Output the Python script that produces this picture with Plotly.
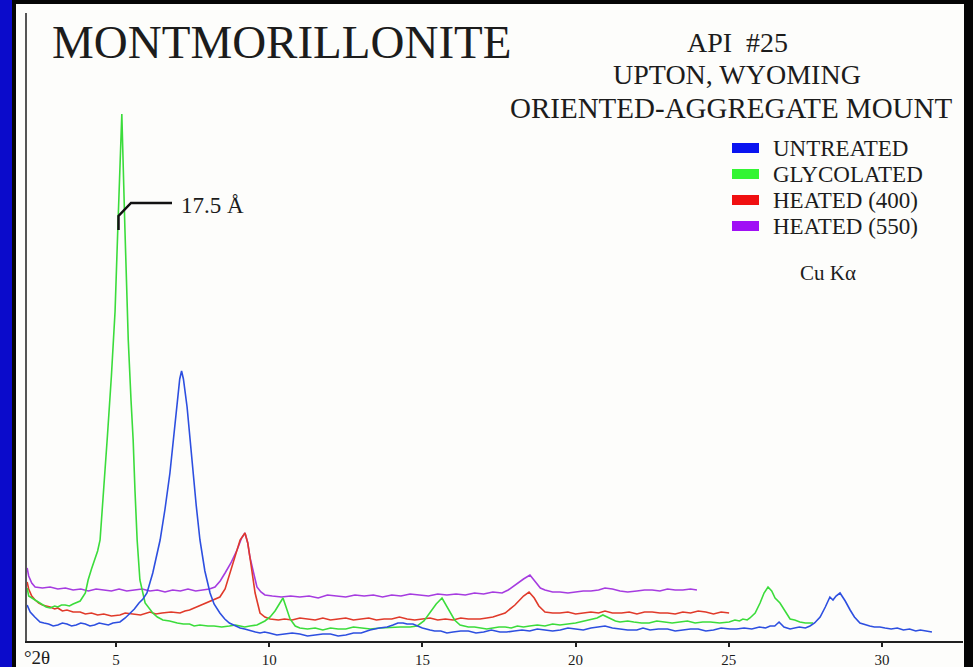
import plotly.graph_objects as go

# ---------------- data (°2θ, relative intensity) ----------------
untreated_2theta = [2.10, 2.20, 2.35, 2.52, 2.65, 2.8, 2.95, 3.1, 3.25, 3.4, 3.55, 3.7, 3.85, 4.0, 4.15,
                    4.3, 4.45, 4.6, 4.75, 4.9, 5.13, 5.3, 5.46, 5.6, 5.75, 5.88,
                    6.01, 6.2, 6.44, 6.6, 6.76, 6.9, 6.99, 7.08, 7.14, 7.2, 7.32, 7.42, 7.51, 7.62, 7.74,
                    7.9, 8.07, 8.2, 8.39, 8.55, 8.7, 8.9, 9.05, 9.2, 9.4, 9.55, 9.7, 9.85, 10.0, 10.25,
                    10.5, 10.75, 11.0, 11.25, 11.5, 11.75, 12.0, 12.25, 12.5, 12.75, 13.0,
                    13.29, 13.6, 13.85, 14.04, 14.2, 14.37, 14.5, 14.69, 14.85, 15.0, 15.25, 15.4, 15.6,
                    15.8, 16.0, 16.25, 16.5, 16.75, 17.0, 17.25, 17.53, 17.75, 18.0, 18.25,
                    18.5, 18.75, 19.0, 19.25, 19.5, 19.75, 20.0, 20.25, 20.5, 20.75, 20.96, 21.2, 21.4,
                    21.7, 22.0, 22.2, 22.43, 22.7, 23.0, 23.25, 23.5, 23.75, 24.0, 24.25, 24.5, 24.75,
                    25.04, 25.25, 25.5, 25.75, 26.0, 26.2, 26.35, 26.5, 26.64, 26.8, 27.0, 27.15, 27.3,
                    27.5, 27.65, 27.8, 27.98, 28.15, 28.3, 28.4, 28.5, 28.63, 28.8, 28.96, 29.1, 29.28,
                    29.45, 29.6, 29.75, 29.93, 30.1, 30.3, 30.5, 30.7, 30.9, 31.1, 31.25, 31.4, 31.63]
untreated_counts = [36, 29, 24, 19, 18, 17, 15, 16, 18, 17, 15, 16, 18, 17, 15,
                    16, 18, 17, 16, 18, 19, 23, 28, 32, 38, 42,
                    48, 68, 101, 132, 168, 210, 234, 262, 270, 262, 234, 200, 168, 135, 101,
                    70, 48, 37, 28, 22, 18, 15, 13, 12, 10, 9, 8, 9, 8, 6,
                    7, 8, 7, 5, 6, 7, 7, 5, 6, 8, 8,
                    11, 13, 14, 16, 18, 18, 17, 17, 15, 13, 11, 10, 10,
                    8, 9, 10, 10, 8, 9, 11, 9, 9, 10, 11,
                    10, 12, 11, 10, 11, 13, 12, 11, 13, 14, 15, 13, 12,
                    11, 11, 13, 11, 12, 12, 10, 11, 12, 12, 10, 11, 13,
                    12, 12, 13, 12, 14, 13, 15, 15, 19, 14, 12, 13, 14,
                    13, 15, 18, 24, 34, 44, 41, 45, 48, 40, 31, 24, 18,
                    16, 15, 14, 14, 13, 12, 13, 11, 12, 10, 11, 10, 9]

glycolated_2theta = [2.10, 2.15, 2.36, 2.5, 2.6, 2.72, 2.85, 3.0, 3.1, 3.22, 3.34, 3.48, 3.6, 3.72, 3.83,
                     4.0, 4.09, 4.2, 4.3, 4.4, 4.48, 4.6, 4.72,
                     4.85, 4.97, 5.06, 5.19, 5.29, 5.40, 5.49, 5.56, 5.62, 5.69, 5.78, 5.95, 6.2, 6.35,
                     6.53, 6.75, 7.0, 7.2, 7.4, 7.55, 7.74, 8.0, 8.2, 8.45, 8.7, 8.9, 9.05, 9.2, 9.37,
                     9.6, 9.86, 10.03, 10.19, 10.35, 10.45, 10.55, 10.68, 10.85, 11.0, 11.25, 11.5, 11.75,
                     12.0, 12.25, 12.5, 12.75, 13.0, 13.3, 13.62, 14.0, 14.27, 14.6, 14.83, 15.05,
                     15.25, 15.45, 15.64, 15.77, 15.9, 16.05, 16.23, 16.5, 16.7, 16.88, 17.1, 17.3, 17.5,
                     17.7, 17.9, 18.1, 18.3, 18.5, 18.75, 19.0, 19.25, 19.49, 19.8, 20.0, 20.14, 20.3,
                     20.5, 20.7, 20.89, 21.1, 21.3, 21.45, 21.7, 21.9, 22.15, 22.4, 22.65, 22.9, 23.15,
                     23.4, 23.65, 23.9, 24.15, 24.4, 24.7, 25.01, 25.2, 25.35, 25.46, 25.6, 25.69, 25.86,
                     26.02, 26.15, 26.28, 26.4, 26.51, 26.67, 26.83, 27.0, 27.15, 27.32, 27.5, 27.75]
glycolated_counts = [53, 45, 41, 38, 36, 34, 33, 35, 34, 36, 36, 35, 37, 39, 40,
                     48, 61, 72, 80, 90, 101, 150, 205,
                     265, 330, 413, 527, 413, 301, 241, 201, 150, 101, 61, 38, 28, 24,
                     21, 20, 18, 17, 17, 15, 16, 15, 15, 14, 15, 16, 15, 14, 15,
                     16, 20, 24, 30, 38, 43, 34, 22, 15, 13, 12, 13, 11,
                     13, 12, 12, 14, 13, 12, 13, 14, 14, 14, 15, 20,
                     28, 37, 43, 36, 28, 21, 16, 14, 14, 13, 12, 13, 14,
                     14, 13, 15, 14, 15, 16, 15, 17, 16, 17, 18, 19, 20,
                     21, 23, 26, 23, 20, 19, 20, 19, 18, 18, 20, 19, 18,
                     19, 20, 18, 19, 19, 18, 19, 21, 20, 22, 21, 23, 28,
                     38, 48, 54, 50, 43, 38, 30, 22, 21, 19, 18, 18]

heated400_2theta = [2.10, 2.15, 2.25, 2.36, 2.48, 2.6, 2.72, 2.85, 3.0, 3.1, 3.25, 3.4, 3.6, 3.83, 4.0,
                    4.2, 4.4, 4.6, 4.85, 5.13, 5.3, 5.5, 5.8, 6.11, 6.3, 6.5, 6.8,
                    7.09, 7.25, 7.4, 7.55, 7.74, 7.9, 8.07, 8.25, 8.39, 8.56, 8.72, 8.9, 9.05, 9.21, 9.3,
                    9.37, 9.45, 9.54, 9.70, 9.86, 10.03, 10.3, 10.5, 10.75, 11.0, 11.25, 11.5, 11.75,
                    12.0, 12.25, 12.5, 12.75, 13.0, 13.25, 13.5, 13.75, 14.0, 14.25, 14.5, 14.75, 15.0,
                    15.25, 15.5, 15.75, 16.0, 16.25, 16.5, 16.88, 17.1, 17.3, 17.5, 17.7,
                    18.02, 18.3, 18.48, 18.65, 18.8, 19.0, 19.25, 19.49, 19.75, 20.0, 20.25, 20.5, 20.75,
                    20.96, 21.2, 21.5, 21.75, 22.0, 22.25, 22.5, 22.75, 23.0, 23.25, 23.5, 23.75, 24.0,
                    24.25, 24.5, 24.75, 25.01]
heated400_counts = [59, 52, 45, 41, 38, 36, 35, 34, 32, 33, 30, 31, 29, 29, 27,
                    28, 26, 27, 25, 26, 28, 27, 26, 29, 27, 28, 29,
                    28, 30, 31, 33, 36, 38, 40, 42, 44, 52, 68, 85, 101, 108, 98,
                    84, 66, 48, 28, 24, 22, 21, 22, 21, 23, 22, 21, 23,
                    21, 22, 23, 21, 22, 23, 21, 22, 22, 24, 22, 21, 22,
                    23, 21, 22, 21, 23, 22, 22, 23, 24, 26, 28,
                    36, 45, 49, 43, 35, 29, 28, 28, 29, 27, 28, 29, 28,
                    30, 28, 28, 29, 27, 29, 29, 28, 28, 27, 29, 28, 30,
                    29, 27, 29, 28]

heated550_2theta = [2.10, 2.15, 2.25, 2.36, 2.6, 2.85, 3.1, 3.35, 3.6, 3.85, 4.1, 4.35, 4.6, 4.85, 5.1,
                    5.35, 5.6, 5.85, 6.11, 6.35, 6.6, 6.85, 7.1, 7.35, 7.6, 7.85, 8.05, 8.23, 8.4, 8.56,
                    8.75, 8.95, 9.1, 9.21, 9.3, 9.37, 9.48, 9.60, 9.73, 9.86, 10.1, 10.4, 10.7, 11.0,
                    11.3, 11.6, 11.9, 12.2, 12.5, 12.8, 13.1, 13.4, 13.7, 14.0, 14.3, 14.6, 14.9, 15.2,
                    15.5, 15.8, 16.1, 16.4, 16.7, 17.0, 17.3, 17.6, 17.8, 18.02, 18.3, 18.51, 18.7,
                    18.85, 19.0, 19.25, 19.49, 19.75, 20.0, 20.25, 20.5, 20.75, 20.96, 21.2, 21.45,
                    21.7, 22.0, 22.25, 22.5, 22.75, 23.0, 23.25, 23.5, 23.75, 23.96]
heated550_counts = [73, 65, 58, 54, 53, 54, 52, 53, 51, 52, 50, 52, 51, 50, 52,
                    50, 51, 52, 50, 51, 49, 51, 50, 52, 50, 51, 52, 54, 60, 68,
                    78, 91, 103, 108, 98, 84, 68, 54, 49, 46, 45, 44, 45, 44,
                    45, 43, 46, 45, 44, 46, 45, 46, 44, 46, 45, 47, 46, 45,
                    47, 46, 47, 46, 48, 47, 49, 48, 51, 56, 62, 66, 59,
                    53, 51, 49, 49, 48, 49, 50, 50, 51, 53, 52, 50,
                    49, 50, 51, 51, 50, 52, 51, 51, 52, 51]

series_names = ["UNTREATED", "GLYCOLATED", "HEATED (400)", "HEATED (550)"]
line_colors = ["#2D4FE0", "#3BDC3B", "#E03A2A", "#A63CE0"]
swatch_colors = ["#0A14F0", "#33F533", "#F01010", "#A010F5"]
x_ticks = [5, 10, 15, 20, 25, 30]
peak_label = "17.5 Å"

# ---------------- figure ----------------
W, H = 973, 667
ML, MR, MT, MB = 27, 10, 13, 26
PW, PH = W - ML - MR, H - MT - MB


def px(x):
    return (x - ML) / PW


def py(y):
    return (H - MB - y) / PH


SERIF = "Liberation Serif, Times New Roman, serif"
TXT = "#1c1c1c"

fig = go.Figure()
data = [
    (heated550_2theta, heated550_counts, 3),
    (heated400_2theta, heated400_counts, 2),
    (glycolated_2theta, glycolated_counts, 1),
    (untreated_2theta, untreated_counts, 0),
]
for xs, ys, i in data:
    fig.add_trace(go.Scatter(x=xs, y=ys, mode="lines", name=series_names[i],
                             line=dict(color=line_colors[i], width=1.6),
                             showlegend=False))

shapes = [
    # blue slide border on the left
    dict(type="rect", xref="paper", yref="paper", x0=px(0), x1=px(12), y0=py(H), y1=py(0),
         fillcolor="#0B0BCB", line=dict(width=0), layer="below"),
    # white panel
    dict(type="rect", xref="paper", yref="paper", x0=px(16), x1=px(964), y0=py(H), y1=py(4),
         fillcolor="#FDFDFB", line=dict(width=0), layer="below"),
    # pointer for 17.5 Å
    dict(type="path", xref="paper", yref="paper",
         path=f"M {px(118.5)} {py(230)} L {px(118.5)} {py(216)} L {px(131)} {py(203)} L {px(172)} {py(203)}",
         line=dict(color="#111111", width=2.5)),
]
annotations = [
    dict(text="MONTMORILLONITE", xref="paper", yref="paper", x=px(50), y=py(42),
         xanchor="left", yanchor="middle", showarrow=False,
         font=dict(family=SERIF, size=47, color=TXT)),
    dict(text="API  #25", xref="paper", yref="paper", x=px(737), y=py(42),
         xanchor="center", yanchor="middle", showarrow=False,
         font=dict(family=SERIF, size=28, color=TXT)),
    dict(text="UPTON, WYOMING", xref="paper", yref="paper", x=px(737), y=py(75),
         xanchor="center", yanchor="middle", showarrow=False,
         font=dict(family=SERIF, size=28, color=TXT)),
    dict(text="ORIENTED-AGGREGATE MOUNT", xref="paper", yref="paper", x=px(731), y=py(108),
         xanchor="center", yanchor="middle", showarrow=False,
         font=dict(family=SERIF, size=29, color=TXT)),
    dict(text="Cu K\u03b1", xref="paper", yref="paper", x=px(828), y=py(273),
         xanchor="center", yanchor="middle", showarrow=False,
         font=dict(family=SERIF, size=21, color=TXT)),
    dict(text=peak_label, xref="paper", yref="paper", x=px(179), y=py(205),
         xanchor="left", yanchor="middle", showarrow=False,
         font=dict(family=SERIF, size=23, color=TXT)),
    dict(text="\u00b02\u03b8", xref="paper", yref="paper", x=px(22), y=py(657),
         xanchor="left", yanchor="middle", showarrow=False,
         font=dict(family=SERIF, size=19, color=TXT)),
]
legend_y = [148, 174, 200, 226]
for i, name in enumerate(series_names):
    yc = legend_y[i]
    shapes.append(dict(type="rect", xref="paper", yref="paper",
                       x0=px(732), x1=px(759), y0=py(yc + 5), y1=py(yc - 5),
                       fillcolor=swatch_colors[i], line=dict(width=0)))
    annotations.append(dict(text=name, xref="paper", yref="paper", x=px(771), y=py(yc),
                            xanchor="left", yanchor="middle", showarrow=False,
                            font=dict(family=SERIF, size=23, color=TXT)))

x_lo = (ML + 37.2) / 30.64
x_hi = (W - MR + 37.2) / 30.64

fig.update_layout(
    width=W, height=H,
    margin=dict(l=ML, r=MR, t=MT, b=MB, pad=0, autoexpand=False),
    paper_bgcolor="#050505",
    plot_bgcolor="rgba(0,0,0,0)",
    shapes=shapes,
    annotations=annotations,
    showlegend=False,
    xaxis=dict(range=[x_lo, x_hi], tickvals=x_ticks, ticktext=[str(t) for t in x_ticks],
               automargin=False,
               showgrid=False, zeroline=False, showline=True, linecolor="#202020", linewidth=2,
               ticks="outside", ticklen=4, tickwidth=1.5, tickcolor="#202020",
               tickfont=dict(family=SERIF, size=15, color=TXT)),
    yaxis=dict(range=[0, PH], showgrid=False, zeroline=False, showline=True, automargin=False,
               linecolor="#555555", linewidth=2, showticklabels=False, ticks=""),
)

fig.write_html("out.html")
